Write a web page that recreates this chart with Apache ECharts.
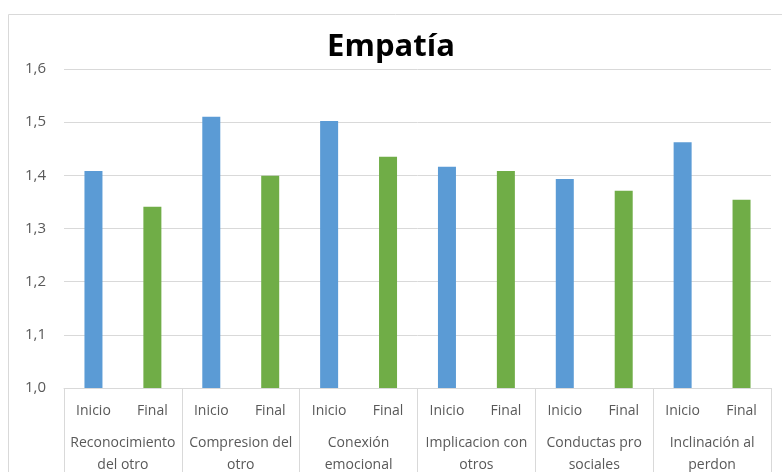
<!DOCTYPE html>
<html><head><meta charset="utf-8">
<script src="https://cdn.jsdelivr.net/npm/echarts@6/dist/echarts.min.js"></script>
<style>html,body{margin:0;padding:0;background:#fff}#c{width:782px;height:472px}</style>
</head><body><div id="c"></div>
<script>
const groups = ['Reconocimiento\ndel otro','Compresion del\notro','Conexión\nemocional','Implicacion con\notros','Conductas pro\nsociales','Inclinación al\nperdon'];
const phases = ['Inicio','Final'];
const inicio = [1.408, 1.510, 1.502, 1.416, 1.393, 1.462];
const final = [1.341, 1.399, 1.435, 1.408, 1.371, 1.354];
const yTicks = {min: 1.0, max: 1.6, interval: 0.1};

const cats = [];
const inicioData = [];
const finalData = [];
groups.forEach((g, i) => {
  cats.push(phases[0]); inicioData.push(inicio[i]); finalData.push(null);
  cats.push(phases[1]); inicioData.push(null); finalData.push(final[i]);
});

const chart = echarts.init(document.getElementById('c'));
const font = 'Open Sans';
chart.setOption({
  animation: false,
  title: {text: 'Empatía', left: 'center', top: 27, textStyle: {fontFamily: font, fontWeight: 'bold', fontSize: 31, color: '#000'}},
  graphic: [{type: 'rect', shape: {x: 8.5, y: 14.5, width: 800, height: 500}, style: {fill: null, stroke: '#d9d9d9', lineWidth: 1}, silent: true}],
  grid: {left: 64, right: 11, top: 69, bottom: 84, containLabel: false, outerBoundsMode: 'none'},
  xAxis: [
    {type: 'category', data: cats, axisLine: {lineStyle: {color: '#d9d9d9'}}, axisTick: {show: false},
     axisLabel: {interval: 0, color: '#595959', fontFamily: font, fontSize: 14, margin: 16}},
    {type: 'category', data: groups, position: 'bottom', axisLine: {show: false},
     axisTick: {show: true, interval: 0, length: 84, lineStyle: {color: '#d9d9d9'}},
     axisLabel: {interval: 0, color: '#595959', fontFamily: font, fontSize: 14, margin: 44, lineHeight: 22}}
  ],
  yAxis: {type: 'value', min: yTicks.min, max: yTicks.max, interval: yTicks.interval,
    axisLine: {show: false}, axisTick: {show: false},
    splitLine: {lineStyle: {color: '#d9d9d9'}},
    axisLabel: {color: '#595959', fontFamily: font, fontSize: 15, margin: 18,
      formatter: v => v.toFixed(1).replace('.', ',')}},
  series: [
    {name: 'Inicio', type: 'bar', data: inicioData, barWidth: 18, barGap: '-100%', itemStyle: {color: '#5b9bd5'}},
    {name: 'Final', type: 'bar', data: finalData, barWidth: 18, barGap: '-100%', itemStyle: {color: '#70ad47'}}
  ]
});
</script></body></html>
